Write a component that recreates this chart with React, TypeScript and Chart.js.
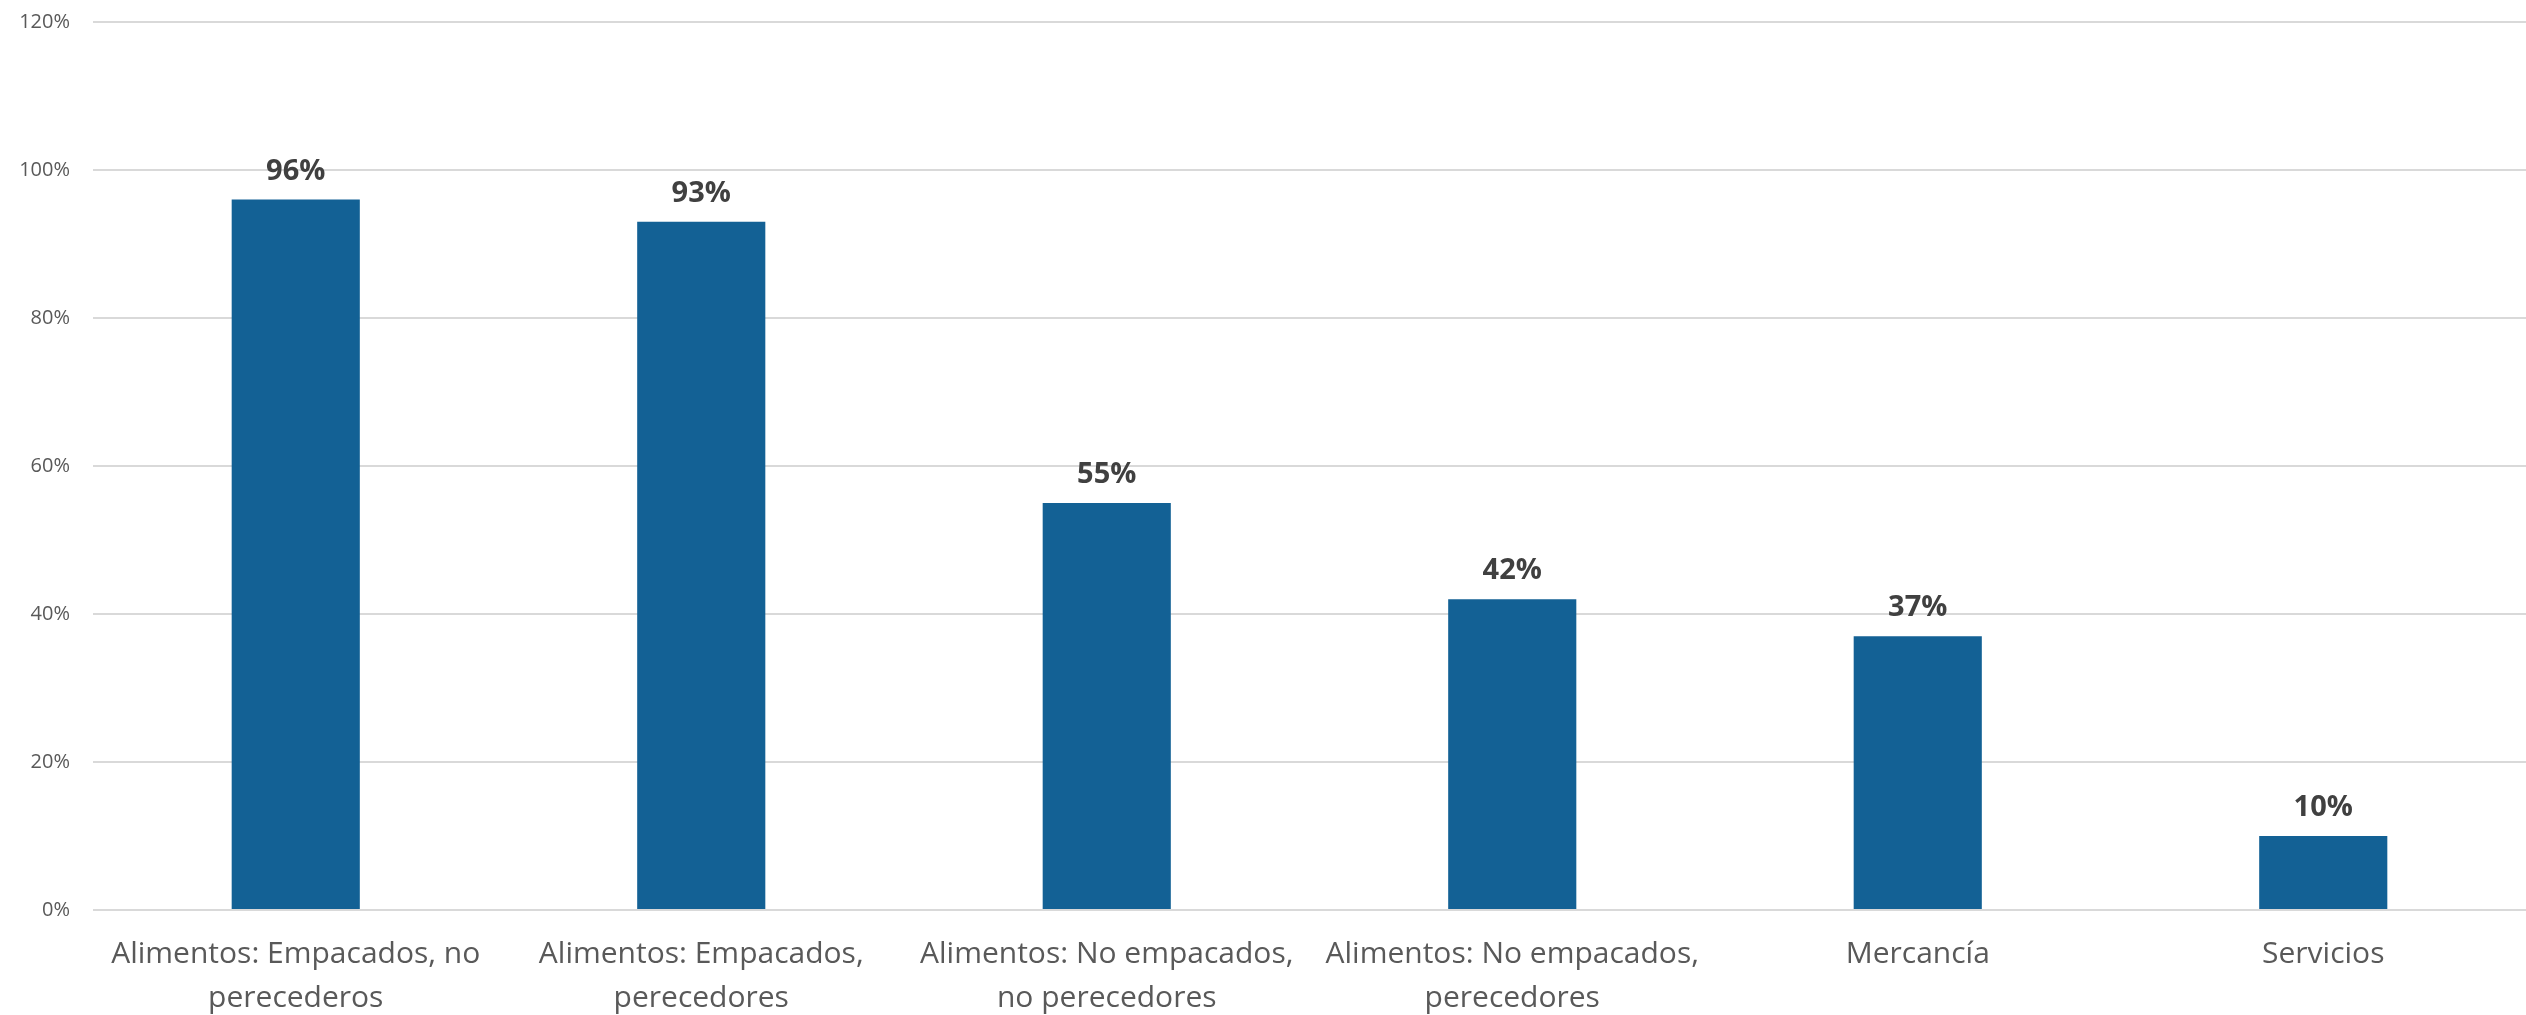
import React, { useEffect, useRef } from "react";
import { Chart, registerables } from "chart.js";

Chart.register(...registerables);

const categories: (string | string[])[] = [
  ["Alimentos: Empacados, no", "perecederos"],
  ["Alimentos: Empacados,", "perecedores"],
  ["Alimentos: No empacados,", "no perecedores"],
  ["Alimentos: No empacados,", "perecedores"],
  "Mercancía",
  "Servicios",
];
const values: number[] = [96, 93, 55, 42, 37, 10];
const yTicks: number[] = [0, 20, 40, 60, 80, 100, 120];

const dataLabelPlugin = {
  id: "dataLabels",
  afterDatasetsDraw(chart: any) {
    const ctx = chart.ctx;
    const meta = chart.getDatasetMeta(0);
    ctx.save();
    ctx.font = "bold 29px 'Open Sans'";
    ctx.fillStyle = "#404040";
    ctx.textAlign = "center";
    ctx.textBaseline = "alphabetic";
    meta.data.forEach((bar: any, i: number) => {
      ctx.fillText(values[i] + "%", bar.x, bar.y - 20);
    });
    ctx.restore();
  },
};

export default function App() {
  const ref = useRef<HTMLCanvasElement>(null);
  useEffect(() => {
    if (!ref.current) return;
    const chart = new Chart(ref.current, {
      type: "bar",
      data: {
        labels: categories,
        datasets: [
          {
            data: values,
            backgroundColor: "#136195",
            borderWidth: 0,
            barPercentage: 0.316,
            categoryPercentage: 1,
          },
        ],
      },
      options: {
        animation: false,
        responsive: true,
        maintainAspectRatio: false,
        layout: { padding: { top: 0, right: 0, left: 0, bottom: 0 } },
        plugins: { legend: { display: false }, tooltip: { enabled: false } },
        scales: {
          x: {
            grid: { display: false, drawTicks: false },
            border: { display: false },
            ticks: {
              color: "#595959",
              font: { family: "'Open Sans'", size: 30, lineHeight: 1.45 },
              padding: 23,
              maxRotation: 0,
              autoSkip: false,
            },
            afterFit: (axis: any) => {
              axis.height = 105;
            },
          },
          y: {
            min: 0,
            max: 120,
            afterBuildTicks: (axis: any) => {
              axis.ticks = yTicks.map((v) => ({ value: v }));
            },
            grid: { color: "#d9d9d9", lineWidth: 2, drawTicks: false },
            border: { display: false },
            ticks: {
              color: "#595959",
              font: { family: "'Open Sans'", size: 20 },
              padding: 23,
              callback: (v: any) => v + "%",
            },
            afterFit: (axis: any) => {
              axis.width = 93;
              axis.paddingTop = 22;
              axis.paddingBottom = 0;
            },
          },
        },
      },
      plugins: [dataLabelPlugin],
    });
    return () => chart.destroy();
  }, []);
  return (
    <div style={{ position: "fixed", left: 0, top: 0, width: "100vw", height: "100vh", background: "#fff" }}>
      <canvas ref={ref} />
    </div>
  );
}
